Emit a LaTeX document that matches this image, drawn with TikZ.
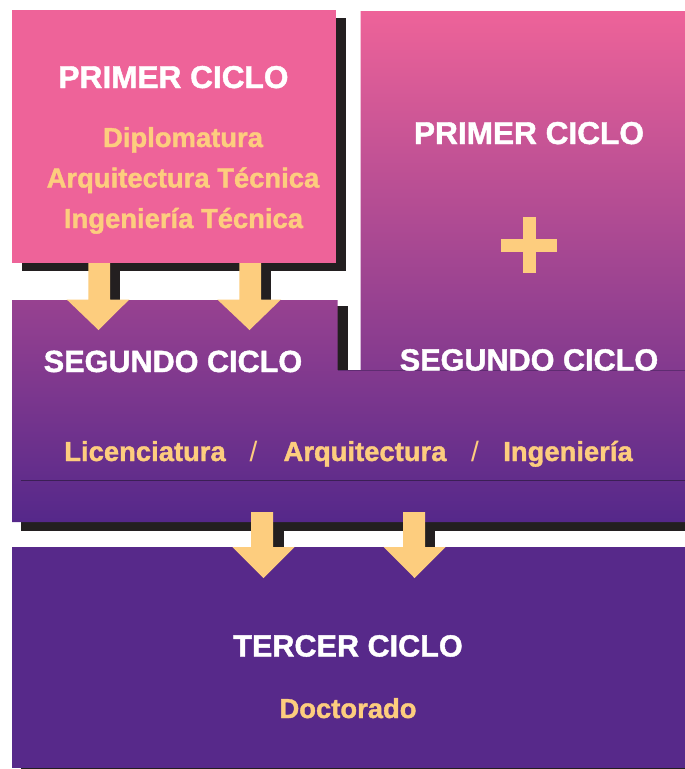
\documentclass[tikz,border=0pt]{standalone}
\usepackage{fontspec}
\setmainfont{Liberation Sans}
\newfontfamily\heavyfont[FakeBold=1.4]{Liberation Sans Bold}
\definecolor{pinkc}{HTML}{EE6399}
\definecolor{purpc}{HTML}{55288A}
\definecolor{darkp}{HTML}{57298A}
\definecolor{shad}{HTML}{231F20}
\definecolor{gold}{HTML}{FDCD7E}
\definecolor{seam}{HTML}{3B1F55}
\begin{document}
\begin{tikzpicture}[x=1pt,y=-1pt,
  title/.style={font=\heavyfont\fontsize{30.6}{31}\selectfont, text=white, anchor=base, inner sep=0pt},
  bigtitle/.style={title, font=\heavyfont\fontsize{31.6}{32}\selectfont},
  sub/.style={font=\heavyfont\fontsize{27.4}{28}\selectfont, text=gold, anchor=base, inner sep=0pt},
  slash/.style={font=\fontsize{28}{28}\selectfont, text=gold, anchor=base, inner sep=0pt},
  shadowfill/.style={fill=shad},
  blockarrow/.style={fill=gold}]
\useasboundingbox (0,0) rectangle (685,769);
\fill[white] (0,0) rectangle (685,769);
% top-left box with shadow
\fill[shadowfill] (22,18) rectangle (346,271);
\fill[shadowfill] (110,263) rectangle (120,300);
\fill[shadowfill] (261,263) rectangle (271,300);
\fill[pinkc] (12,10) rectangle (336,263);
% shadows of the gradient shape
\fill[shadowfill] (337,306) rectangle (348,370);
\fill[shadowfill] (21,522) rectangle (685,531);
\fill[shadowfill] (273,522) rectangle (284,547);
\fill[shadowfill] (425,522) rectangle (435,547);
% gradient shape (second cycle + right box)
\shade[top color=pinkc, bottom color=purpc]
  (12,300) -- (337.5,300) -- (337.5,370) -- (360.5,370) -- (360.5,11)
  -- (685,11) -- (685,522) -- (12,522) -- cycle;
\draw[seam, line width=0.6pt, opacity=0.5] (337.5,370) -- (685,370);
\draw[seam, line width=1pt] (21,480) -- (685,480);
% bottom box
\fill[darkp] (12,547) rectangle (685,768);
\fill[shadowfill] (21,767.8) rectangle (685,769);
% block arrows
\fill[blockarrow] (88.3,263) -- (110,263) -- (110,299.5) -- (129.3,299.5)
  -- (98.5,330) -- (66.7,299.5) -- (88.3,299.5) -- cycle;
\fill[blockarrow] (239.3,263) -- (261,263) -- (261,299.5) -- (281,299.5)
  -- (249.5,330) -- (217.3,299.5) -- (239.3,299.5) -- cycle;
\fill[blockarrow] (251,512) -- (273,512) -- (273,547) -- (294.5,547)
  -- (263.5,578) -- (232.4,547) -- (251,547) -- cycle;
\fill[blockarrow] (403,512) -- (425,512) -- (425,547) -- (445.6,547)
  -- (414.5,578) -- (383.6,547) -- (403,547) -- cycle;
% plus sign
\fill[gold] (522.7,217) rectangle (536,272.7);
\fill[gold] (501,239) rectangle (557,251.7);
% texts
\node[bigtitle] (p1) at (173.5,88) {PRIMER CICLO};
\node[sub] (d1) at (183,147) {Diplomatura};
\node[sub] (d2) at (183,187.5) {Arquitectura Técnica};
\node[sub] (d3) at (183.5,228) {Ingeniería Técnica};
\node[bigtitle] (p2) at (529,144) {PRIMER CICLO};
\node[title] (s1) at (173,372) {SEGUNDO CICLO};
\node[title] (s2) at (529,370.5) {SEGUNDO CICLO};
\node[sub] (l1) at (145,461) {Licenciatura};
\node[slash] (sl1) at (253.5,461) {/};
\node[sub] (l2) at (365,461) {Arquitectura};
\node[slash] (sl2) at (475,461) {/};
\node[sub] (l3) at (568,461) {Ingeniería};
\node[title] (t3) at (348,656.5) {TERCER CICLO};
\node[sub] (dc) at (348,718) {Doctorado};
\end{tikzpicture}
\end{document}
